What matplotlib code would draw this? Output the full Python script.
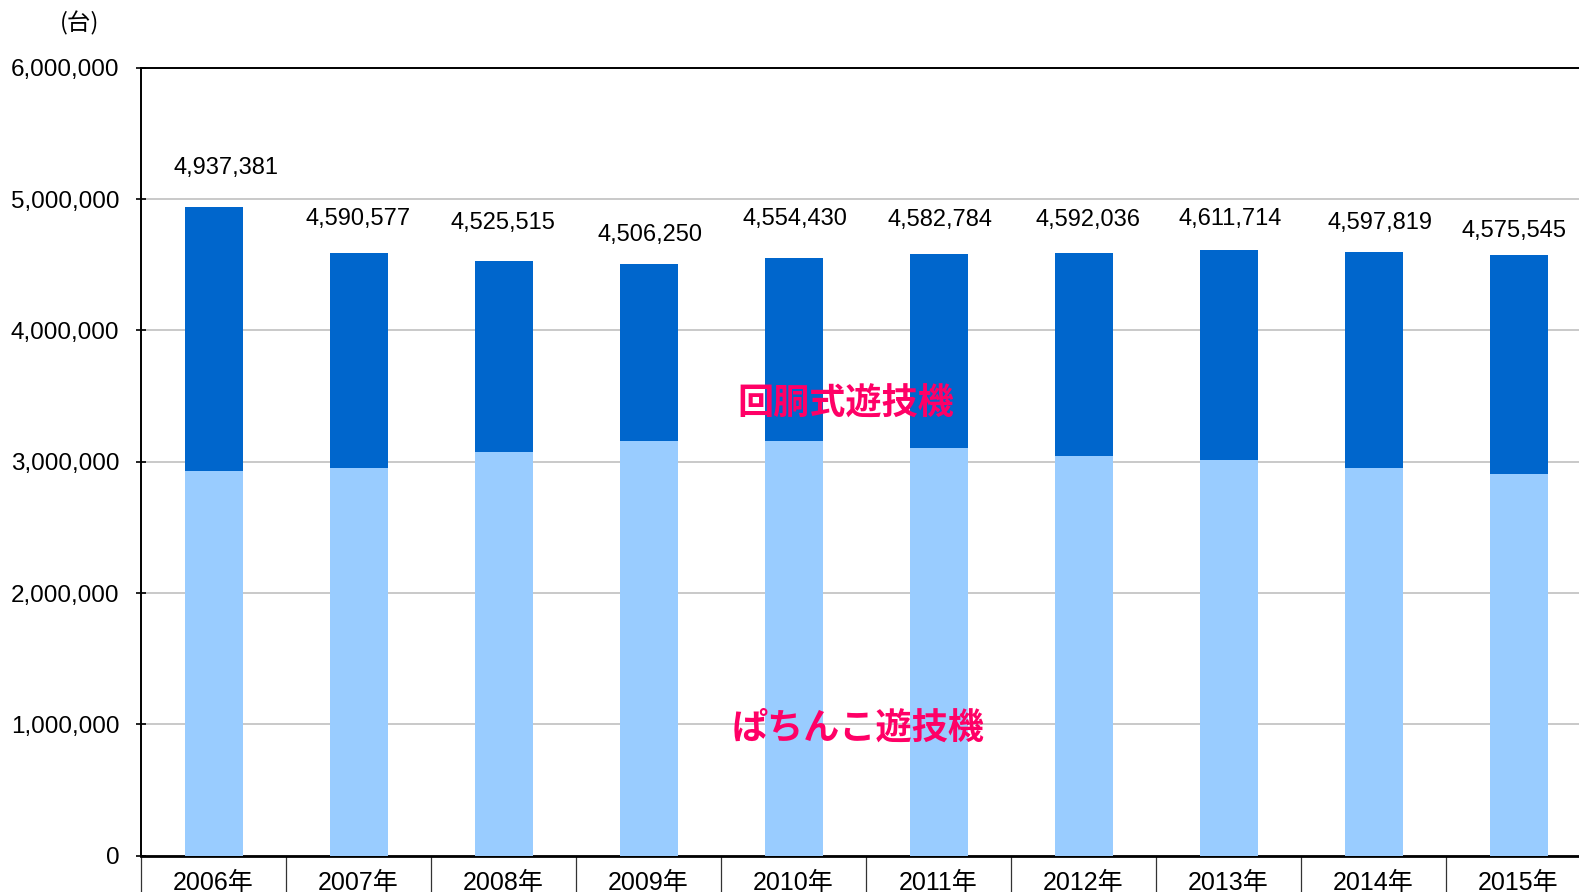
import matplotlib
matplotlib.use("Agg")
import matplotlib.pyplot as plt
from matplotlib.ticker import FuncFormatter, MultipleLocator, FixedLocator

# ---- data ----
years = ["2006年", "2007年", "2008年", "2009年", "2010年",
         "2011年", "2012年", "2013年", "2014年", "2015年"]
totals = [4937381, 4590577, 4525515, 4506250, 4554430,
          4582784, 4592036, 4611714, 4597819, 4575545]
pachinko = [2929000, 2952000, 3074000, 3158000, 3160000,
            3104000, 3043000, 3013000, 2952000, 2906000]
slot = [t - p for t, p in zip(totals, pachinko)]

# label placement offsets (layout only)
label_dy = [297000, 254000, 295000, 223000, 290000,
            261000, 252000, 240000, 216000, 184000]
label_dx_px = [13, 0, -1, 2, 1, 2, 5, 2, 7, -5]

W, H, DPI = 1579, 892, 100
fig = plt.figure(figsize=(W / DPI, H / DPI), dpi=DPI)
fig.patch.set_facecolor("white")

left = 141 / W
bottom = (H - 855.7) / H
height = 788 / H
cat_px = 145
width = cat_px * 10 / W
ax = fig.add_axes([left, bottom, width, height])

num_font = ["Liberation Sans", "Noto Sans CJK JP"]
x = list(range(len(years)))
ax.bar(x, pachinko, width=0.4, color="#99CCFF", zorder=3)
ax.bar(x, slot, width=0.4, bottom=pachinko, color="#0066CC", zorder=3)

ax.set_xlim(-0.5, len(years) - 0.5)
ax.set_ylim(0, 6000000)

ax.yaxis.set_major_locator(MultipleLocator(1000000))
ax.yaxis.set_major_formatter(FuncFormatter(lambda v, p: f"{int(v):,}"))
ax.grid(axis="y", color="#c0c0c0", linewidth=1.2, zorder=1)

for s in ["left", "top"]:
    ax.spines[s].set_color("black")
    ax.spines[s].set_linewidth(1.4)
ax.spines["bottom"].set_color("black")
ax.spines["bottom"].set_linewidth(2.0)
ax.spines["right"].set_visible(False)

ax.tick_params(axis="y", direction="inout", length=7, width=1.2,
               pad=12, labelsize=17.5, colors="black")
for lab in ax.get_yticklabels():
    lab.set_family(num_font)

ax.set_xticks(x)
ax.set_xticklabels(years, fontsize=18, family=num_font)
ax.tick_params(axis="x", length=0, pad=11)
ax.xaxis.set_minor_locator(FixedLocator([i - 0.5 for i in range(len(years) + 1)]))
ax.tick_params(axis="x", which="minor", direction="out", length=30,
               width=0.9, color="#333333")

for i, (t, dy, dx) in enumerate(zip(totals, label_dy, label_dx_px)):
    ax.text(i + dx / cat_px, t + dy, f"{t:,}", ha="center", va="center",
            fontsize=17, family=num_font, color="black", zorder=5)

cjk = ["Noto Sans CJK JP", "DejaVu Sans"]
ax.text(4.36, 3435000, "回胴式遊技機", ha="center", va="center",
        fontsize=26, fontweight="bold", color="#FF0066", family=cjk, zorder=6)
ax.text(4.445, 970000, "ぱちんこ遊技機", ha="center", va="center",
        fontsize=26, fontweight="bold", color="#FF0066", family=cjk, zorder=6)

fig.text(80 / W, 1 - 23 / H, "(台)", ha="center", va="center",
         fontsize=17, family=cjk)

fig.savefig("out.png", dpi=DPI)
